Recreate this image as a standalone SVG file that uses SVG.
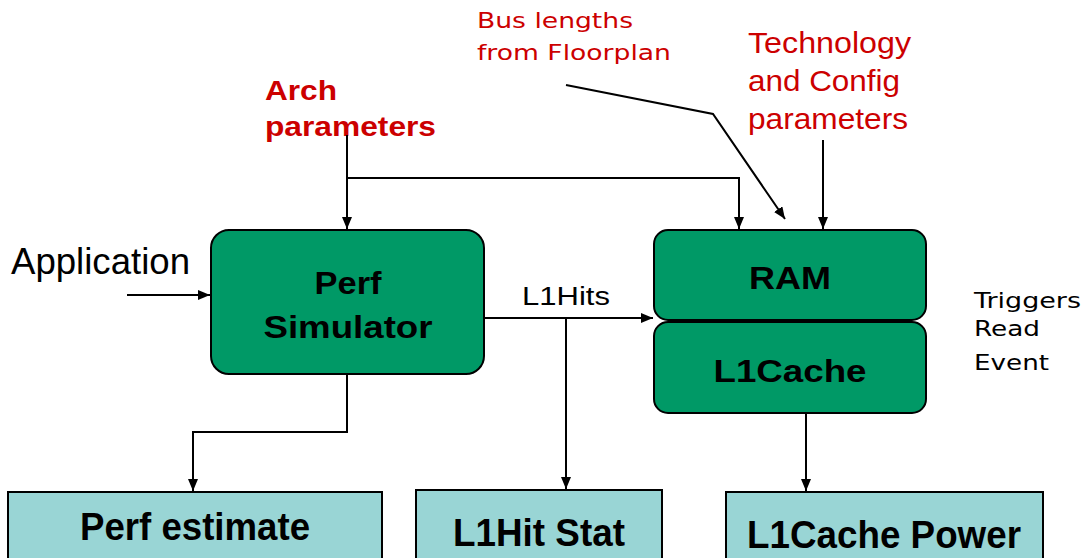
<svg xmlns="http://www.w3.org/2000/svg" width="1084" height="558" viewBox="0 0 1084 558">
  <defs>
    <marker id="arrow" viewBox="0 0 12 10" refX="12" refY="5" markerWidth="12" markerHeight="10" markerUnits="userSpaceOnUse" orient="auto">
      <path d="M0,0 L12,5 L0,10 Z" fill="#000"/>
    </marker>
    <style>
      .proc { fill: #009966; stroke: #000; stroke-width: 2; }
      .out { fill: #99d5d5; stroke: #000; stroke-width: 2; }
      .wire { fill: none; stroke: #000; stroke-width: 2; }
      .lbl { font-family: "Liberation Sans", Arial, sans-serif; fill: #000; }
      .bold { font-family: "Liberation Sans", Arial, sans-serif; font-weight: bold; fill: #000; }
      .red { font-family: "Liberation Sans", Arial, sans-serif; fill: #cc0000; }
      .ver { font-family: "DejaVu Sans", Verdana, sans-serif; }
    </style>
  </defs>

  <!-- input annotations -->
  <text class="red ver" x="477" y="28" font-size="22" textLength="156" lengthAdjust="spacingAndGlyphs">Bus lengths</text>
  <text class="red ver" x="477" y="60" font-size="22" textLength="194" lengthAdjust="spacingAndGlyphs">from Floorplan</text>
  <text class="red" x="748" y="53" font-size="29" textLength="163" lengthAdjust="spacingAndGlyphs">Technology</text>
  <text class="red" x="748" y="91" font-size="29" textLength="152" lengthAdjust="spacingAndGlyphs">and Config</text>
  <text class="red" x="748" y="129" font-size="29" textLength="160" lengthAdjust="spacingAndGlyphs">parameters</text>
  <text class="red" x="265" y="100" font-size="28" font-weight="bold" textLength="72" lengthAdjust="spacingAndGlyphs">Arch</text>
  <text class="red" x="265" y="136" font-size="28" font-weight="bold" textLength="171" lengthAdjust="spacingAndGlyphs">parameters</text>
  <text class="lbl" x="11" y="274" font-size="36" textLength="179" lengthAdjust="spacingAndGlyphs">Application</text>
  <text class="lbl" x="522" y="305" font-size="25" textLength="88" lengthAdjust="spacingAndGlyphs">L1Hits</text>
  <text class="lbl ver" x="974" y="308" font-size="22" textLength="107" lengthAdjust="spacingAndGlyphs">Triggers</text>
  <text class="lbl ver" x="974" y="336" font-size="22" textLength="66" lengthAdjust="spacingAndGlyphs">Read</text>
  <text class="lbl ver" x="974" y="370" font-size="22" textLength="75" lengthAdjust="spacingAndGlyphs">Event</text>

  <!-- connectors -->
  <g id="connectors">
    <path class="wire" d="M347,135 V229" marker-end="url(#arrow)"/>
    <path class="wire" d="M347,178 H739 V229" marker-end="url(#arrow)"/>
    <path class="wire" d="M566,85 L713,114 L785,219" marker-end="url(#arrow)"/>
    <path class="wire" d="M823,140 V229" marker-end="url(#arrow)"/>
    <path class="wire" d="M127,295 H210" marker-end="url(#arrow)"/>
    <path class="wire" d="M484,318 H653" marker-end="url(#arrow)"/>
    <path class="wire" d="M566,318 V489" marker-end="url(#arrow)"/>
    <path class="wire" d="M347,374 V432 H193 V491" marker-end="url(#arrow)"/>
    <path class="wire" d="M806,413 V491" marker-end="url(#arrow)"/>
  </g>

  <!-- processing blocks -->
  <g id="perf-simulator">
    <rect class="proc" x="211" y="230" width="273" height="144" rx="18"/>
    <text class="bold" x="348" y="294" font-size="32" text-anchor="middle" textLength="67" lengthAdjust="spacingAndGlyphs">Perf</text>
    <text class="bold" x="348" y="338" font-size="32" text-anchor="middle" textLength="169" lengthAdjust="spacingAndGlyphs">Simulator</text>
  </g>
  <g id="ram">
    <rect class="proc" x="654" y="230" width="272" height="90" rx="14"/>
    <text class="bold" x="790" y="289" font-size="32" text-anchor="middle" textLength="82" lengthAdjust="spacingAndGlyphs">RAM</text>
  </g>
  <g id="l1cache">
    <rect class="proc" x="654" y="322" width="272" height="91" rx="14"/>
    <text class="bold" x="790" y="382" font-size="32" text-anchor="middle" textLength="153" lengthAdjust="spacingAndGlyphs">L1Cache</text>
  </g>

  <!-- result blocks -->
  <g id="perf-estimate">
    <rect class="out" x="8" y="492" width="374" height="70"/>
    <text class="bold" x="195" y="540" font-size="38" text-anchor="middle" textLength="230" lengthAdjust="spacingAndGlyphs">Perf estimate</text>
  </g>
  <g id="l1hit-stat">
    <rect class="out" x="416" y="490" width="246" height="72"/>
    <text class="bold" x="539" y="546" font-size="38" text-anchor="middle" textLength="172" lengthAdjust="spacingAndGlyphs">L1Hit Stat</text>
  </g>
  <g id="l1cache-power">
    <rect class="out" x="726" y="492" width="317" height="70"/>
    <text class="bold" x="884" y="548" font-size="38" text-anchor="middle" textLength="274" lengthAdjust="spacingAndGlyphs">L1Cache Power</text>
  </g>
</svg>
